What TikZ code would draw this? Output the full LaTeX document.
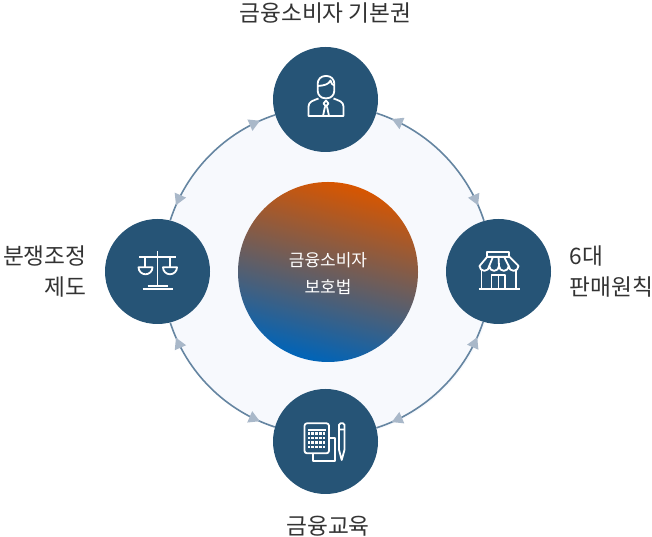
\documentclass[tikz,border=0pt]{standalone}
\usepackage{fontspec}
\setmainfont{Noto Sans CJK KR}
\usepackage{xcolor}
\usepackage{tikz}
\usetikzlibrary{arrows.meta,positioning,decorations.markings}
\definecolor{Panel}{HTML}{F7F9FD}
\definecolor{Disc}{HTML}{265476}
\definecolor{Link}{HTML}{6585A1}
\definecolor{LinkTip}{HTML}{A9B8C9}
\definecolor{Warm}{HTML}{D85600}
\definecolor{Cool}{HTML}{0064B8}
\definecolor{Caption}{HTML}{333333}

\begin{document}
\begin{tikzpicture}[x=1pt,y=1pt,node distance=12pt and 18pt,
  every node/.style={font=\fontsize{22.7}{31}\selectfont,text=Caption,inner sep=0pt},
  disc/.style={circle,fill=Disc,minimum size=105pt},
  glyph/.style={draw=white,line width=1.8pt,line join=round},
  link/.style={draw=Link,line width=1.6pt,postaction={decorate},decoration={markings,
    mark=at position .105 with {\arrowreversed{Triangle[length=11pt,width=12pt,color=LinkTip]}},
    mark=at position .895 with {\arrow{Triangle[length=11pt,width=12pt,color=LinkTip]}}}}]
\useasboundingbox (0,0) rectangle (652,537);
\node[circle,fill=Panel,minimum size=330pt] (panel) at (328,265) {};
\node[circle,minimum size=180pt,shade,top color=Warm,bottom color=Cool,shading angle=-15] (hub) at (328,265) {};
\node[font=\fontsize{17}{27}\selectfont,text=white,align=center,yshift=-2pt] (hubname) at (hub) {금융소비자\\보호법};
\node[disc] (rights) at (325.5,437.5) {};
\node[disc] (sales) at (498.5,265.5) {};
\node[disc] (edu) at (325.5,95.5) {};
\node[disc] (dispute) at (157.5,265.5) {};
\node[above=23pt of rights] (rightsname) {금융소비자 기본권};
\node[right=18pt of sales,align=left] (salesname) {6대\\판매원칙};
\node[below=21.5pt of edu,xshift=2.5pt] (eduname) {금융교육};
\node[left=18pt of dispute,align=right] (disputename) {분쟁조정\\제도};
\draw[link] (rights.-15) to[bend left=27,looseness=.9] (sales.106);
\draw[link] (sales.253) to[bend left=27,looseness=.9] (edu.15);
\draw[link] (edu.164) to[bend left=27,looseness=.9] (dispute.-76);
\draw[link] (dispute.76) to[bend left=27,looseness=.9] (rights.197);
% person
\begin{scope}[shift={(rights)},glyph]
\draw[rounded corners=7.5pt] (-7.8,1.2) rectangle (8.8,23.5);
\draw (-7.8,13.5) .. controls (-1,14) and (3,15) .. (5,19) .. controls (5.5,16) and (7,14.5) .. (8.8,14);
\draw (-7,1) .. controls (-12,-1) and (-17,-2) .. (-17,-7) -- (-17,-16.5) -- (18,-16.5) -- (18,-7) .. controls (18,-2) and (13,-1) .. (8,1);
\draw (.5,-1) -- (3,-4) -- (.5,-7) -- (-2,-4) -- cycle;
\draw (-.5,-7) -- (-2.5,-16.5) (1.5,-7) -- (3.5,-16.5);
\end{scope}
% shop
\begin{scope}[shift={(sales)},glyph]
\draw (-11.2,14.8) rectangle (10.8,19.8);
\draw (-11.2,14.8) -- (10.8,14.8) -- (20,5.5) arc (0:-180:4.875) arc (0:-180:4.875) arc (0:-180:4.875) arc (0:-180:4.875) -- cycle;
\draw (-5.5,14.8) -- (-9.25,5.5) (0,14.8) -- (.5,5.5) (5.5,14.8) -- (10.25,5.5);
\draw (-17,1.5) -- (-17,-17.5) (17.5,1.5) -- (17.5,-17.5);
\draw (-20,-17.8) -- (21.5,-17.8);
\draw (-7,-17.5) -- (-7,-3.5) -- (6.5,-3.5) -- (6.5,-17.5) (0,-3.5) -- (0,-17.5);
\end{scope}
% calculator
\begin{scope}[shift={(edu)},glyph]
\draw[rounded corners=2.5pt] (-21,18.2) rectangle (3.5,-11.8);
\draw (-18,11.5) -- (.8,11.5);
\foreach \keyx in {-18,-14.2,-10.4,-6.6,-2.8}
  \foreach \keyy in {6.5,2,-2.5,-7}
    \fill[white] (\keyx,\keyy) rectangle ++(2.6,2.6);
\draw (-12.8,-11.8) -- (-12.8,-19.2) -- (9.5,-19.2) -- (9.5,3.2) -- (3.5,3.2);
\draw[rounded corners=1.5pt] (13.5,-8.3) -- (13.5,18.2) -- (19,18.2) -- (19,-8.3);
\draw (13.5,-8.3) -- (16.2,-18.5) -- (19,-8.3) (13.5,12) -- (19,12);
\end{scope}
% scales
\begin{scope}[shift={(dispute)},glyph]
\draw (-18.5,14.8) -- (18.5,14.8) (0,20.5) -- (0,-14.2);
\draw (-15,-17.5) -- (15,-17.5) (-10,-14.2) -- (10,-14.2);
\draw (-12.5,14.8) -- (-12.5,4.2) (12.5,14.8) -- (12.5,4.2);
\draw (-19,4.2) -- (-5,4.2) arc (0:-180:7) -- cycle;
\draw (5.5,4.2) -- (19.5,4.2) arc (0:-180:7) -- cycle;
\end{scope}
\end{tikzpicture}
\end{document}
